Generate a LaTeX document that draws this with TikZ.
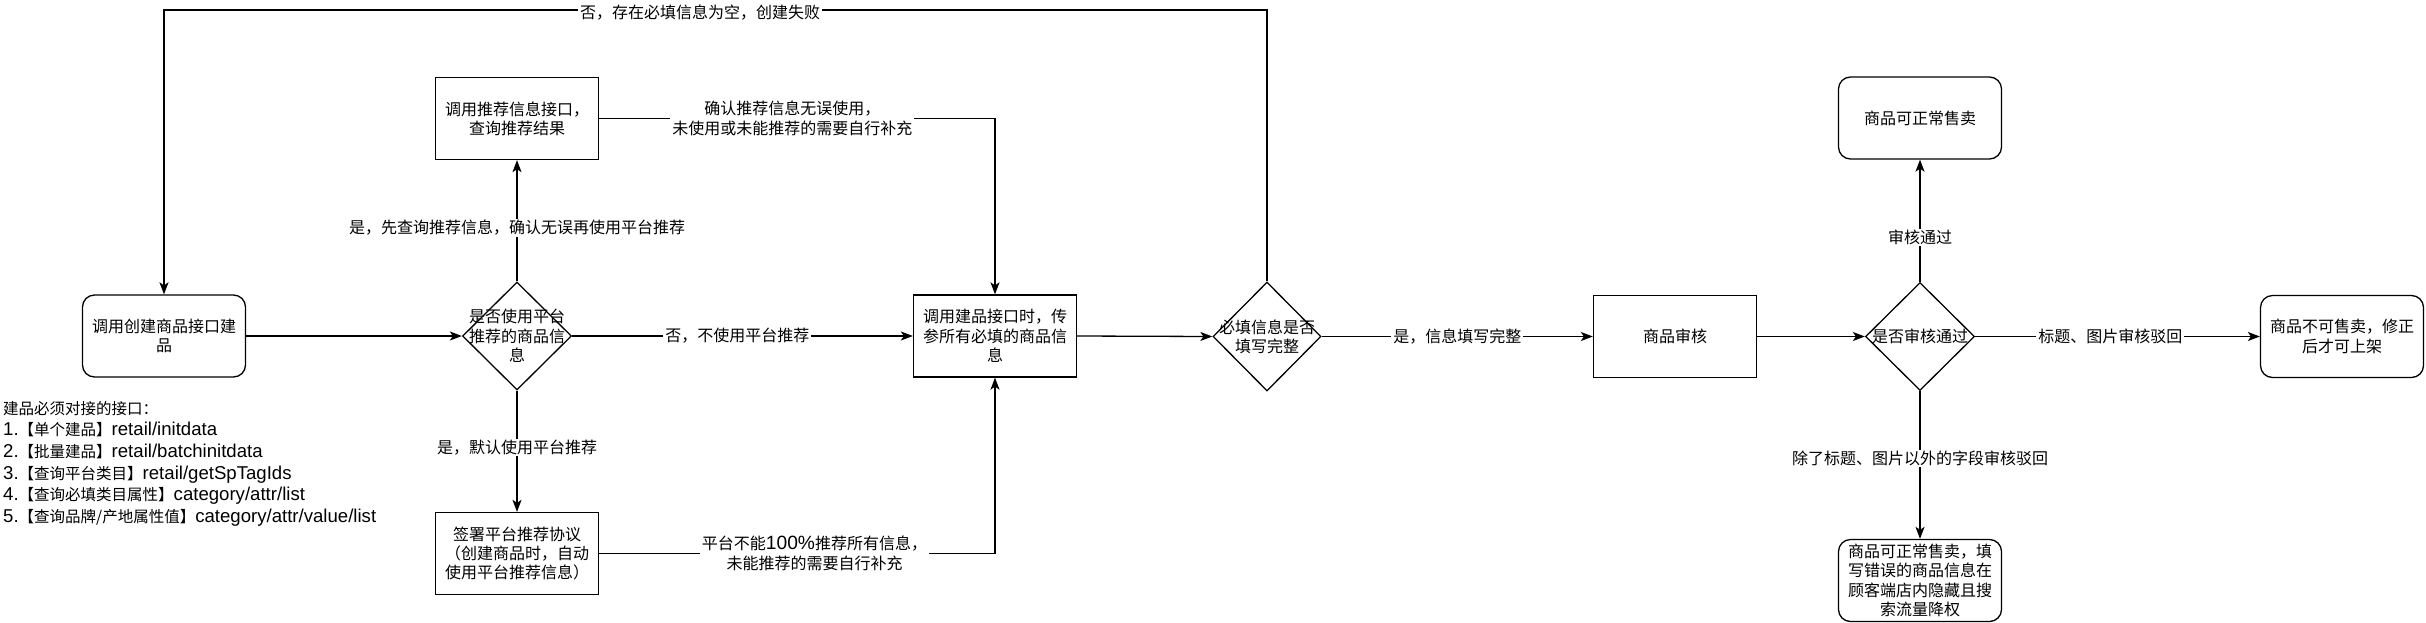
\documentclass[tikz,border=0pt]{standalone}
\usepackage{fontspec}
\setmainfont{Noto Sans CJK SC}
\newfontfamily\lat[Scale=1.2]{Liberation Sans}
\usetikzlibrary{arrows.meta,shapes.geometric}

\begin{document}
\begin{tikzpicture}[x=1pt,y=-1pt,
  every node/.style={font=\fontsize{16}{19.3}\selectfont, align=center},
  box/.style={draw, line width=1.3pt, minimum width=163pt, minimum height=82pt, inner sep=0pt},
  rbox/.style={box, rounded corners=12pt},
  choice/.style={draw, diamond, line width=1.3pt, minimum width=109pt, minimum height=108pt, inner sep=0pt},
  lbl/.style={fill=white, inner xsep=2pt, inner ysep=1pt},
  arr/.style={line width=1.3pt, -{Stealth[length=12pt,width=9pt,inset=3pt]}}]
  \useasboundingbox (0,0) rectangle (2426,622);

  % left part: create and recommend
  \node[rbox] (start) at (164,336) {调用创建商品接口建\\品};
  \node[choice, label=center:{是否使用平台\\推荐的商品信\\息}] (use) at (517,336) {};
  \node[box] (query) at (517,118.5) {调用推荐信息接口，\\查询推荐结果};
  \node[box] (sign) at (517,553.5) {签署平台推荐协议\\（创建商品时，自动\\使用平台推荐信息）};
  \node[box] (call) at (995,336) {调用建品接口时，传\\参所有必填的商品信\\息};
  \node[anchor=north west, align=left, inner sep=0pt, font=\fontsize{15.5}{21.6}\selectfont] (apis) at (3,401)
    {建品必须对接的接口：\\
     {\lat 1.}【单个建品】{\lat retail/initdata}\\
     {\lat 2.}【批量建品】{\lat retail/batchinitdata}\\
     {\lat 3.}【查询平台类目】{\lat retail/getSpTagIds}\\
     {\lat 4.}【查询必填类目属性】{\lat category/attr/list}\\
     {\lat 5.}【查询品牌/产地属性值】{\lat category/attr/value/list}};

  % right part: check and audit
  \node[choice, minimum width=108pt, minimum height=109pt, label=center:{必填信息是否\\填写完整}] (check) at (1267,336.5) {};
  \node[box] (audit) at (1675,336.5) {商品审核};
  \node[choice, label=center:{是否审核通过}] (pass) at (1920,336.5) {};
  \node[rbox] (ok) at (1920,118) {商品可正常售卖};
  \node[rbox] (fix) at (2342,336.5) {商品不可售卖，修正\\后才可上架};
  \node[rbox] (hide) at (1920,580.5) {商品可正常售卖，填\\写错误的商品信息在\\顾客端店内隐藏且搜\\索流量降权};
  \coordinate (topline) at (0,10);

  \draw[arr] (start.east) -- (use.west);
  \draw[arr] (use.north) -- node[lbl,pos=0.44] {是，先查询推荐信息，确认无误再使用平台推荐} (query.south);
  \draw[arr] (query.east) -| node[lbl,pos=0.244] {确认推荐信息无误使用，\\未使用或未能推荐的需要自行补充} (call.north);
  \draw[arr] (use.east) -- node[lbl,pos=0.485] {否，不使用平台推荐} (call.west);
  \draw[arr] (use.south) -- node[lbl,pos=0.467] {是，默认使用平台推荐} (sign.north);
  \draw[arr] (sign.east) -| node[lbl,pos=0.272] {平台不能{\lat 100\%}推荐所有信息，\\未能推荐的需要自行补充} (call.south);
  \draw[arr] (call.east) -- (check.west);
  \draw[arr] (check.north) -- (check.north |- topline) -| node[lbl,pos=0.257,yshift=-3pt] {否，存在必填信息为空，创建失败} (start.north);
  \draw[arr] (check.east) -- node[lbl] {是，信息填写完整} (audit.west);
  \draw[arr] (audit.east) -- (pass.west);
  \draw[arr] (pass.north) -- node[lbl,pos=0.366] {审核通过} (ok.south);
  \draw[arr] (pass.east) -- node[lbl,pos=0.475] {标题、图片审核驳回} (fix.west);
  \draw[arr] (pass.south) -- node[lbl,pos=0.456] {除了标题、图片以外的字段审核驳回} (hide.north);
\end{tikzpicture}
\end{document}
